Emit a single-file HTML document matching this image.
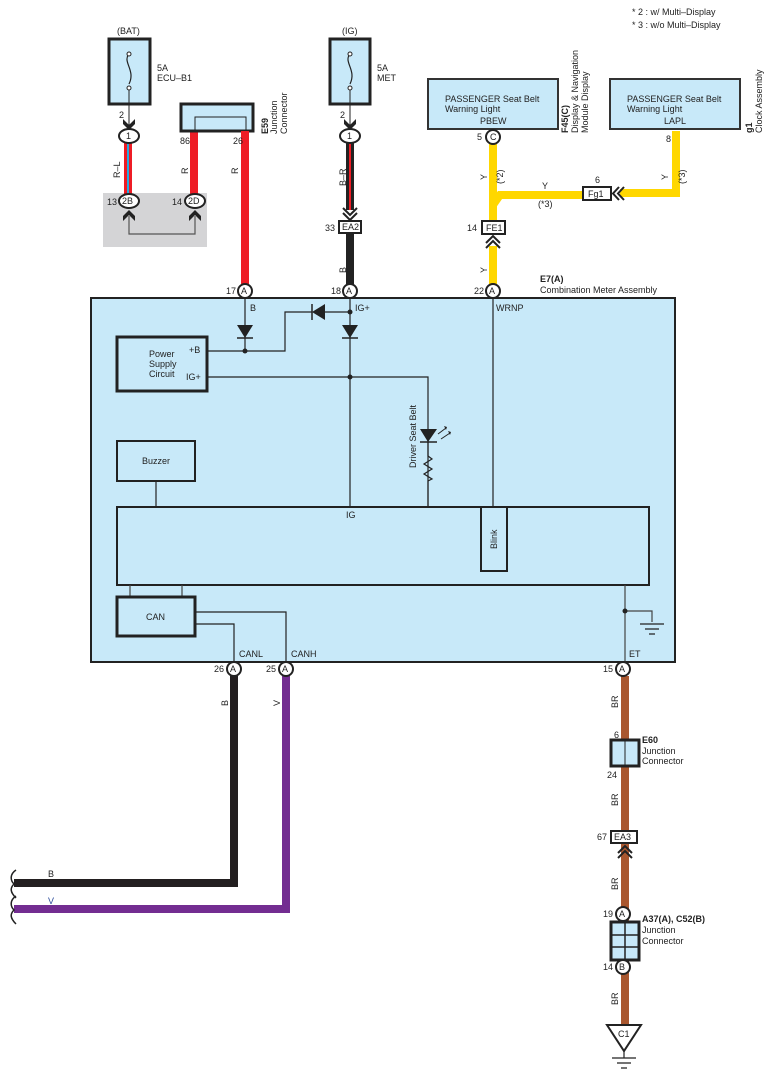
<!DOCTYPE html>
<html><head><meta charset="utf-8"><style>
html,body{margin:0;padding:0;background:#fff}
svg{display:block}
text{font-family:"Liberation Sans",sans-serif;font-size:9px;fill:#222}
.b{font-weight:bold}
</style></head><body>
<svg width="775" height="1079" viewBox="0 0 775 1079" xmlns="http://www.w3.org/2000/svg">
<!-- notes -->
<text x="632" y="15">* 2 : w/ Multi–Display</text>
<text x="632" y="28">* 3 : w/o Multi–Display</text>

<!-- BAT fuse -->
<text x="117" y="34">(BAT)</text>
<rect x="109" y="39" width="41" height="65" fill="#c8e9f9" stroke="#222" stroke-width="3"/>
<path d="M129,54 C122,62 136,70 129,84" fill="none" stroke="#222" stroke-width="1.2"/>
<circle cx="129" cy="54" r="2" fill="#fff" stroke="#222"/><circle cx="129" cy="88" r="2" fill="#fff" stroke="#222"/>
<text x="157" y="71">5A</text><text x="157" y="81">ECU–B1</text>
<line x1="129" y1="90" x2="129" y2="126" stroke="#222"/>
<text x="119" y="118">2</text>
<path d="M123,119 L129,125 L135,119 L135,124 L129,130 L123,124Z" fill="#222"/>
<!-- gray box -->
<rect x="103" y="193" width="104" height="54" fill="#d4d4d6"/>
<line x1="128" y1="143" x2="128" y2="195" stroke="#ee1c25" stroke-width="8"/>
<line x1="128" y1="143" x2="128" y2="195" stroke="#27aae1" stroke-width="2"/>
<ellipse cx="129" cy="136" rx="10" ry="7" fill="#fff" stroke="#222" stroke-width="2"/>
<text x="126" y="139">1</text>
<text x="120" y="178" transform="rotate(-90 120 178)">R–L</text>
<line x1="194" y1="131" x2="194" y2="195" stroke="#ee1c25" stroke-width="8"/>
<text x="188" y="174" transform="rotate(-90 188 174)">R</text>
<ellipse cx="129" cy="201" rx="10" ry="7" fill="#fff" stroke="#222" stroke-width="2"/><text x="122" y="204">2B</text>
<ellipse cx="195" cy="201" rx="10" ry="7" fill="#fff" stroke="#222" stroke-width="2"/><text x="188" y="204">2D</text>
<text x="107" y="205">13</text><text x="172" y="205">14</text>
<path d="M123,216 L129,210 L135,216 L135,221 L129,215 L123,221Z" fill="#222"/>
<path d="M189,216 L195,210 L201,216 L201,221 L195,215 L189,221Z" fill="#222"/>
<path d="M129,216 V234 H195 V216" fill="none" stroke="#555" stroke-width="1.2"/>

<!-- E59 -->
<rect x="181" y="104" width="72" height="27" fill="#c8e9f9" stroke="#222" stroke-width="3"/>
<path d="M195,130 V117 H246 V130" fill="none" stroke="#222"/>
<line x1="245" y1="131" x2="245" y2="284" stroke="#ee1c25" stroke-width="8"/>
<text x="180" y="144">86</text><text x="233" y="144">26</text>
<text x="238" y="174" transform="rotate(-90 238 174)">R</text>
<text x="268" y="134" class="b" transform="rotate(-90 268 134)">E59</text>
<text x="277" y="134" transform="rotate(-90 277 134)">Junction</text>
<text x="287" y="134" transform="rotate(-90 287 134)">Connector</text>

<!-- IG fuse -->
<text x="342" y="34">(IG)</text>
<rect x="330" y="39" width="40" height="65" fill="#c8e9f9" stroke="#222" stroke-width="3"/>
<path d="M350,54 C343,62 357,70 350,84" fill="none" stroke="#222" stroke-width="1.2"/>
<circle cx="350" cy="54" r="2" fill="#fff" stroke="#222"/><circle cx="350" cy="88" r="2" fill="#fff" stroke="#222"/>
<text x="377" y="71">5A</text><text x="377" y="81">MET</text>
<line x1="350" y1="90" x2="350" y2="126" stroke="#222"/>
<text x="340" y="118">2</text>
<path d="M344,119 L350,125 L356,119 L356,124 L350,130 L344,124Z" fill="#222"/>
<line x1="350" y1="143" x2="350" y2="210" stroke="#222" stroke-width="8"/>
<line x1="350" y1="143" x2="350" y2="210" stroke="#ee1c25" stroke-width="2"/>
<ellipse cx="350" cy="136" rx="10" ry="7" fill="#fff" stroke="#222" stroke-width="2"/><text x="347" y="139">1</text>
<text x="346" y="186" transform="rotate(-90 346 186)">B–R</text>
<path d="M343,208 L350,215 L357,208 M343,213 L350,220 L357,213" fill="none" stroke="#222" stroke-width="2"/>
<rect x="339" y="221" width="22" height="12" fill="#fff" stroke="#222" stroke-width="2"/><text x="342" y="230">EA2</text>
<text x="325" y="231">33</text>
<line x1="350" y1="233" x2="350" y2="284" stroke="#222" stroke-width="8"/>
<text x="346" y="273" transform="rotate(-90 346 273)">B</text>

<!-- F45 & g1 boxes -->
<rect x="428" y="79" width="130" height="50" fill="#c8e9f9" stroke="#333" stroke-width="2"/>
<text x="445" y="102">PASSENGER Seat Belt</text><text x="445" y="112">Warning Light</text><text x="480" y="124">PBEW</text>
<rect x="610" y="79" width="130" height="50" fill="#c8e9f9" stroke="#333" stroke-width="2"/>
<text x="627" y="102">PASSENGER Seat Belt</text><text x="627" y="112">Warning Light</text><text x="664" y="124">LAPL</text>
<text x="568" y="133" class="b" transform="rotate(-90 568 133)">F45(C)</text>
<text x="578" y="133" transform="rotate(-90 578 133)">Display &amp; Navigation</text>
<text x="588" y="133" transform="rotate(-90 588 133)">Module Display</text>
<text x="752" y="133" class="b" transform="rotate(-90 752 133)">g1</text>
<text x="762" y="133" transform="rotate(-90 762 133)">Clock Assembly</text>

<!-- yellow wires -->
<path d="M493,143 V221 M493,205 L500,195 H583 M620,193 H676 V131" fill="none" stroke="#ffd700" stroke-width="8"/>
<circle cx="493" cy="137" r="7" fill="#fff" stroke="#222" stroke-width="2"/><text x="490" y="140">C</text>
<text x="477" y="140">5</text>
<text x="666" y="142">8</text>
<text x="487" y="180" transform="rotate(-90 487 180)">Y</text>
<text x="503" y="184" transform="rotate(-90 503 184)">(*2)</text>
<text x="542" y="189">Y</text><text x="538" y="207">(*3)</text>
<text x="595" y="183">6</text>
<rect x="583" y="187" width="28" height="13" fill="#fff" stroke="#222" stroke-width="2"/><text x="588" y="197">Fg1</text>
<path d="M619,187 L613,193.5 L619,200 M624,187 L618,193.5 L624,200" fill="none" stroke="#222" stroke-width="2"/>
<text x="668" y="180" transform="rotate(-90 668 180)">Y</text>
<text x="685" y="184" transform="rotate(-90 685 184)">(*3)</text>
<rect x="482" y="221" width="23" height="13" fill="#fff" stroke="#222" stroke-width="2"/><text x="486" y="231">FE1</text>
<text x="467" y="231">14</text>
<line x1="493" y1="246" x2="493" y2="284" stroke="#ffd700" stroke-width="8"/>
<path d="M486,243 L493,236 L500,243 M486,248 L493,241 L500,248" fill="none" stroke="#222" stroke-width="2"/>
<text x="487" y="273" transform="rotate(-90 487 273)">Y</text>
<text x="540" y="282" class="b">E7(A)</text>
<text x="540" y="293">Combination Meter Assembly</text>

<!-- meter box -->
<rect x="91" y="298" width="584" height="364" fill="#c8e9f9" stroke="#222" stroke-width="2"/>
<circle cx="245" cy="291" r="7" fill="#fff" stroke="#222" stroke-width="2"/><text x="241" y="294">A</text><text x="226" y="294">17</text>
<circle cx="350" cy="291" r="7" fill="#fff" stroke="#222" stroke-width="2"/><text x="346" y="294">A</text><text x="331" y="294">18</text>
<circle cx="493" cy="291" r="7" fill="#fff" stroke="#222" stroke-width="2"/><text x="489" y="294">A</text><text x="474" y="294">22</text>

<g stroke="#222" stroke-width="1.2" fill="none">
<path d="M245,298 V351 M208,351 H285 V312 H312 M325,312 H350 M350,298 V507 M208,377 H428 V507 M493,298 V507 M156,481 V507"/>
</g>
<text x="250" y="311">B</text><text x="355" y="311">IG+</text><text x="496" y="311">WRNP</text>
<path d="M237,325 H253 L245,338Z" fill="#222"/><line x1="237" y1="338" x2="253" y2="338" stroke="#222" stroke-width="1.5"/>
<path d="M342,325 H358 L350,338Z" fill="#222"/><line x1="342" y1="338" x2="358" y2="338" stroke="#222" stroke-width="1.5"/>
<path d="M325,304 V320 L312,312Z" fill="#222"/><line x1="312" y1="304" x2="312" y2="320" stroke="#222" stroke-width="1.5"/>
<circle cx="245" cy="351" r="2.5" fill="#222"/><circle cx="350" cy="312" r="2.5" fill="#222"/><circle cx="350" cy="377" r="2.5" fill="#222"/>
<rect x="117" y="337" width="90" height="54" fill="#c8e9f9" stroke="#222" stroke-width="3"/>
<text x="149" y="357">Power</text><text x="149" y="367">Supply</text><text x="149" y="377">Circuit</text>
<text x="189" y="353">+B</text><text x="186" y="380">IG+</text>
<!-- LED -->
<path d="M420,429 H437 L428,442Z" fill="#222"/><line x1="420" y1="442" x2="437" y2="442" stroke="#222" stroke-width="1.5"/>
<path d="M438,434 L446,428 M441,439 L450,433" stroke="#222" stroke-width="1"/>
<path d="M444,426 L447,427 L446,430Z M448,431 L451,432 L450,435Z" fill="#222"/>
<path d="M428,442 V456 L432,459 L424,464 L432,469 L424,474 L432,479 L428,481 V507" fill="none" stroke="#222" stroke-width="1.2"/>
<text x="416" y="468" transform="rotate(-90 416 468)">Driver Seat Belt</text>
<rect x="117" y="441" width="78" height="40" fill="#c8e9f9" stroke="#222" stroke-width="2"/>
<text x="142" y="464">Buzzer</text>
<rect x="117" y="507" width="532" height="78" fill="#c8e9f9" stroke="#222" stroke-width="2"/>
<text x="346" y="518">IG</text>
<rect x="481" y="507" width="26" height="64" fill="#c8e9f9" stroke="#222" stroke-width="2"/>
<text x="497" y="549" transform="rotate(-90 497 549)">Blink</text>
<g stroke="#444" stroke-width="1.2" fill="none">
<path d="M130,585 V597 M182,585 V597 M625,585 V662 M625,611 H652 V622"/>
<path d="M195,612 H286 V662 M195,624 H234 V662" stroke="#222"/>
</g>
<circle cx="625" cy="611" r="2.5" fill="#222"/>
<path d="M640,624 H664 M645,629 H659 M649,634 H655" stroke="#222" stroke-width="1.2"/>
<rect x="117" y="597" width="78" height="39" fill="#c8e9f9" stroke="#222" stroke-width="3"/>
<text x="146" y="620">CAN</text>
<text x="239" y="657">CANL</text><text x="291" y="657">CANH</text><text x="629" y="657">ET</text>

<!-- bottom wires -->
<path d="M234,676 V883 H14" fill="none" stroke="#231f20" stroke-width="8"/>
<path d="M286,676 V909 H14" fill="none" stroke="#732d91" stroke-width="8"/>
<path d="M16,870 C10,874 10,880 14,884 C10,888 10,892 16,898 M16,896 C10,900 10,906 14,910 C10,914 10,918 16,924" fill="none" stroke="#222" stroke-width="1.5"/>
<text x="48" y="877">B</text><text x="48" y="904" style="fill:#2a4a9a">V</text>
<text x="228" y="706" transform="rotate(-90 228 706)">B</text>
<text x="280" y="706" transform="rotate(-90 280 706)">V</text>
<circle cx="234" cy="669" r="7" fill="#fff" stroke="#222" stroke-width="2"/><text x="230" y="672">A</text><text x="214" y="672">26</text>
<circle cx="286" cy="669" r="7" fill="#fff" stroke="#222" stroke-width="2"/><text x="282" y="672">A</text><text x="266" y="672">25</text>

<!-- brown -->
<line x1="625" y1="676" x2="625" y2="1025" stroke="#a9572f" stroke-width="8"/>
<circle cx="623" cy="669" r="7" fill="#fff" stroke="#222" stroke-width="2"/><text x="619" y="672">A</text><text x="603" y="672">15</text>
<text x="618" y="708" transform="rotate(-90 618 708)">BR</text>
<text x="614" y="738">6</text>
<rect x="611" y="740" width="28" height="26" fill="#c8e9f9" stroke="#222" stroke-width="3"/><line x1="625" y1="740" x2="625" y2="766" stroke="#222"/>
<text x="642" y="743" class="b">E60</text><text x="642" y="754">Junction</text><text x="642" y="764">Connector</text>
<text x="607" y="778">24</text>
<text x="618" y="806" transform="rotate(-90 618 806)">BR</text>
<rect x="611" y="831" width="26" height="12" fill="#fff" stroke="#222" stroke-width="2"/><text x="614" y="840">EA3</text>
<text x="597" y="840">67</text>
<path d="M618,853 L625,846 L632,853 M618,858 L625,851 L632,858" fill="none" stroke="#222" stroke-width="2"/>
<text x="618" y="890" transform="rotate(-90 618 890)">BR</text>
<circle cx="623" cy="914" r="7" fill="#fff" stroke="#222" stroke-width="2"/><text x="619" y="917">A</text><text x="603" y="917">19</text>
<rect x="611" y="922" width="28" height="38" fill="#c8e9f9" stroke="#222" stroke-width="3"/>
<path d="M625,922 V960 M611,935 H639 M611,947 H639" stroke="#222" stroke-width="1.5"/>
<circle cx="623" cy="967" r="7" fill="#fff" stroke="#222" stroke-width="2"/><text x="619" y="970">B</text><text x="603" y="970">14</text>
<text x="642" y="922" class="b">A37(A), C52(B)</text><text x="642" y="933">Junction</text><text x="642" y="944">Connector</text>
<text x="618" y="1005" transform="rotate(-90 618 1005)">BR</text>
<path d="M607,1025 H641 L624,1051Z" fill="#fff" stroke="#222" stroke-width="2"/>
<text x="618" y="1037">C1</text>
<path d="M624,1051 V1058 M612,1058 H636 M617,1063 H631 M621,1068 H627" stroke="#222" stroke-width="1.2"/>
</svg>
</body></html>
